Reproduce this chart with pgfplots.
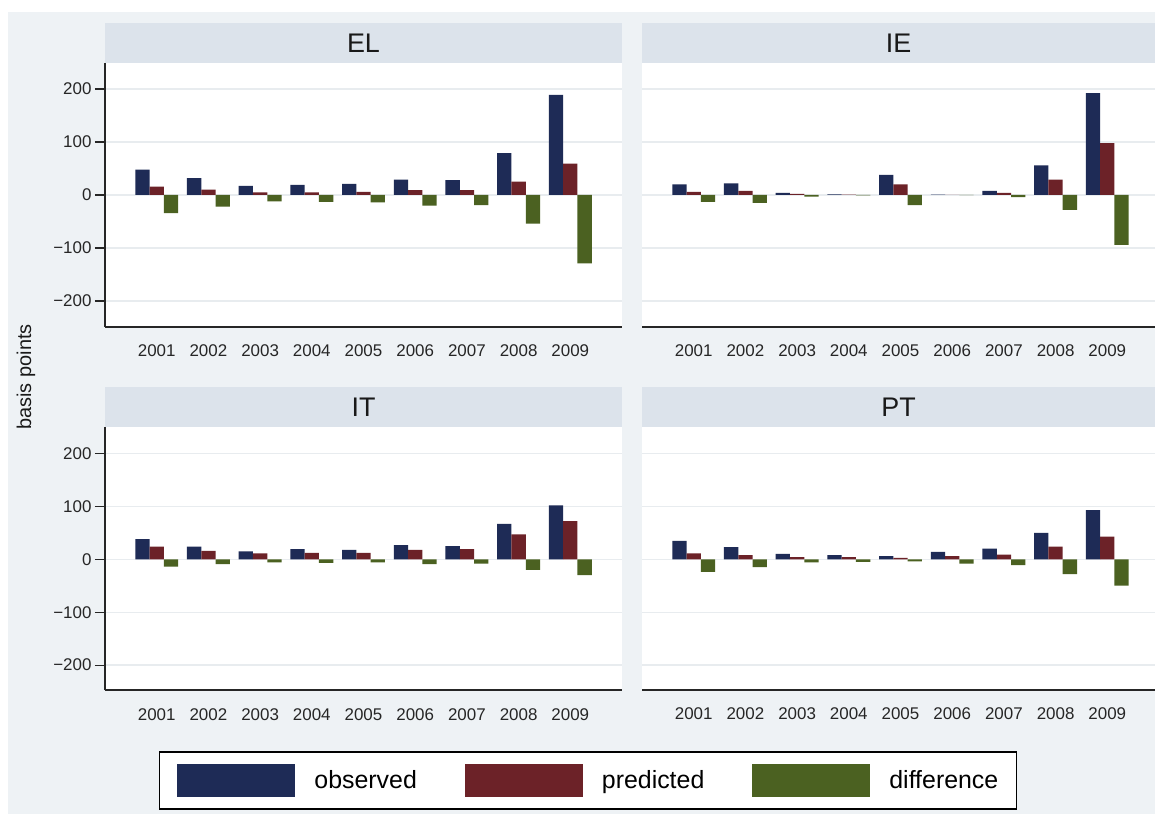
\documentclass[border=0pt]{standalone}
\usepackage{fontspec}
\setmainfont{Liberation Sans}
\usepackage{pgfplots}
\pgfplotsset{compat=1.18}
\usepackage{pgfplotstable}

\definecolor{obs}{HTML}{1E2B56}
\definecolor{pred}{HTML}{6C2228}
\definecolor{dif}{HTML}{4B6121}
\definecolor{bggrey}{HTML}{EEF2F5}
\definecolor{stripc}{HTML}{DCE3EB}
\definecolor{gridc}{HTML}{E8ECEF}

\pgfplotstableread{
x obs pred dif
1 48 16 -34
2 32 10 -22
3 17 5 -12
4 19 5 -13
5 21 6 -14
6 29 9 -20
7 28 9 -19
8 79 25 -54
9 189 59 -129
}\tabEL
\pgfplotstableread{
x obs pred dif
1 20 6 -13
2 22 8 -15
3 4 2 -3
4 1 0.5 -0.5
5 38 20 -19
6 0.5 0.3 -0.3
7 8 4 -4
8 56 29 -28
9 192 98 -94
}\tabIE
\pgfplotstableread{
x obs pred dif
1 38 24 -14
2 24 16 -9
3 15 11 -6
4 19 12 -7
5 18 12 -6
6 27 18 -9
7 25 19 -8
8 67 47 -20
9 102 72 -30
}\tabIT
\pgfplotstableread{
x obs pred dif
1 35 11 -24
2 23 8 -15
3 10 4 -6
4 8 4 -5
5 6 2.5 -4
6 14 6 -8
7 20 9 -11
8 50 24 -28
9 93 43 -50
}\tabPT

\pgfplotsset{
  panel/.style={
    scale only axis, anchor=south west,
    height=264bp, xmin=0, ymin=-249, ymax=249,
    axis background/.style={fill=white},
    ybar=0pt, bar width=14.3bp,
    axis x line*=bottom, axis y line*=left,
    x axis line style={line width=1.6bp, draw=black!85},
    y axis line style={line width=1.6bp, draw=black!85},
    xtick={1,2,3,4,5,6,7,8,9},
    xticklabels={2001,2002,2003,2004,2005,2006,2007,2008,2009},
    xtick style={draw=none},
    ytick={-200,-100,0,100,200},
    yticklabels={−200,−100,0,100,200},
    ymajorgrids, major grid style={gridc, line width=1.3bp},
    tick align=outside, major tick length=10bp,
    ytick style={line width=1.2bp, draw=black!85},
    tick label style={font=\fontsize{17}{20}\selectfont, text=black!85},
    xticklabel style={anchor=base, yshift=-20bp},
    clip=false,
  },
  leftpanel/.style={panel, width=517bp, xmax=10},
  rightpanel/.style={panel, width=513bp, xmax=9.923,
    yticklabels={}, ytick style={draw=none}, y axis line style={draw=none}},
}

\begin{document}
\begin{tikzpicture}
\useasboundingbox (0,0) rectangle (1155bp,814bp);
\fill[white] (0,0) rectangle (1155bp,814bp);
\fill[bggrey] (8bp,0) rectangle (1155bp,802bp);
% strips
\fill[stripc] (105bp,751bp) rectangle (622bp,791bp);
\fill[stripc] (642bp,751bp) rectangle (1155bp,791bp);
\fill[stripc] (105bp,387bp) rectangle (622bp,427bp);
\fill[stripc] (642bp,387bp) rectangle (1155bp,427bp);
\node[font=\fontsize{27}{32}\selectfont, text=black!90] at (363.5bp,771bp) {EL};
\node[font=\fontsize{27}{32}\selectfont, text=black!90] at (898.5bp,771bp) {IE};
\node[font=\fontsize{27}{32}\selectfont, text=black!90] at (363.5bp,407bp) {IT};
\node[font=\fontsize{27}{32}\selectfont, text=black!90] at (898.5bp,407bp) {PT};
\node[rotate=90, font=\fontsize{20}{24}\selectfont, text=black!90] at (26bp,437bp) {basis points};

\begin{axis}[leftpanel, at={(105bp,487bp)}]
\addplot[fill=obs, draw=none] table[x=x,y=obs]{\tabEL};
\addplot[fill=pred, draw=none] table[x=x,y=pred]{\tabEL};
\addplot[fill=dif, draw=none] table[x=x,y=dif]{\tabEL};
\end{axis}

\begin{axis}[rightpanel, at={(642bp,487bp)}]
\addplot[fill=obs, draw=none] table[x=x,y=obs]{\tabIE};
\addplot[fill=pred, draw=none] table[x=x,y=pred]{\tabIE};
\addplot[fill=dif, draw=none] table[x=x,y=dif]{\tabIE};
\end{axis}

\begin{axis}[leftpanel, at={(105bp,124bp)}, height=263bp, ymin=-247, ymax=250,
  every axis plot post/.append style={legend image code/.code={\fill[##1] (0bp,-16.5bp) rectangle (118bp,16.5bp);}},
  legend columns=3,
  legend style={at={(0.934,-0.344)}, anchor=center, draw=black, line width=1.5bp, fill=white,
    inner xsep=18bp, inner ysep=12bp, font=\fontsize{25}{30}\selectfont,
    nodes={inner sep=0pt},
    /tikz/every odd column/.append style={column sep=19bp},
    /tikz/every even column/.append style={column sep=48bp}},
]
\addplot[fill=obs, draw=none] table[x=x,y=obs]{\tabIT};
\addplot[fill=pred, draw=none] table[x=x,y=pred]{\tabIT};
\addplot[fill=dif, draw=none] table[x=x,y=dif]{\tabIT};
\legend{observed,predicted,difference}
\end{axis}

\begin{axis}[rightpanel, at={(642bp,124bp)}, height=263bp, ymin=-247, ymax=250]
\addplot[fill=obs, draw=none] table[x=x,y=obs]{\tabPT};
\addplot[fill=pred, draw=none] table[x=x,y=pred]{\tabPT};
\addplot[fill=dif, draw=none] table[x=x,y=dif]{\tabPT};
\end{axis}
\end{tikzpicture}
\end{document}
